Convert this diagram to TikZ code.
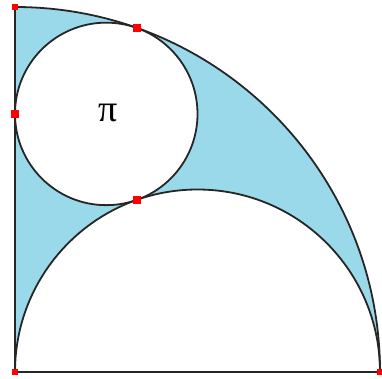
\documentclass[tikz,border=0pt]{standalone}
\usepackage{fontspec}
\newfontfamily\pifont{Liberation Serif}
\definecolor{sky}{HTML}{99D9EA}
\definecolor{dotred}{HTML}{FF0000}
\tikzset{
  outline/.style={draw=black!85, line width=1.8pt},
  bigdot/.style={fill=dotred, inner sep=0pt, minimum size=8pt, draw=none, rectangle},
  smalldot/.style={fill=dotred, inner sep=0pt, minimum size=6pt, draw=none, rectangle}
}
\begin{document}
\begin{tikzpicture}[x=1pt,y=1pt]
\useasboundingbox (0,0) rectangle (382,378);
\coordinate (O) at (15,6);
\coordinate (A) at (380,6);
\coordinate (T) at (15,371);
\coordinate (C) at (106.25,264.09);
\coordinate (M) at (197.5,6);
% shaded region
\fill[sky] (O) -- (A) arc[start angle=0,end angle=90,radius=365] -- cycle;
\fill[white] (A) arc[start angle=0,end angle=180,radius=182.5] -- cycle;
\fill[white] (C) circle[radius=91.25];
% outlines
\draw[outline] (T) -- (O) -- (A);
\draw[outline] (A) arc[start angle=0,end angle=90,radius=365];
\draw[outline] (A) arc[start angle=0,end angle=180,radius=182.5];
\draw[outline] (C) circle[radius=91.25];
% label
\node (pi) at (108,265) {\pifont\fontsize{38}{42}\selectfont π};
% points
\node[smalldot] (p1) at (O) {};
\node[smalldot] (p2) at (A) {};
\node[smalldot] (p3) at (T) {};
\node[bigdot] (p4) at (15,264.09) {};
\node[bigdot] (p5) at (136.67,350.12) {};
\node[bigdot] (p6) at (136.67,178.06) {};
\end{tikzpicture}
\end{document}
